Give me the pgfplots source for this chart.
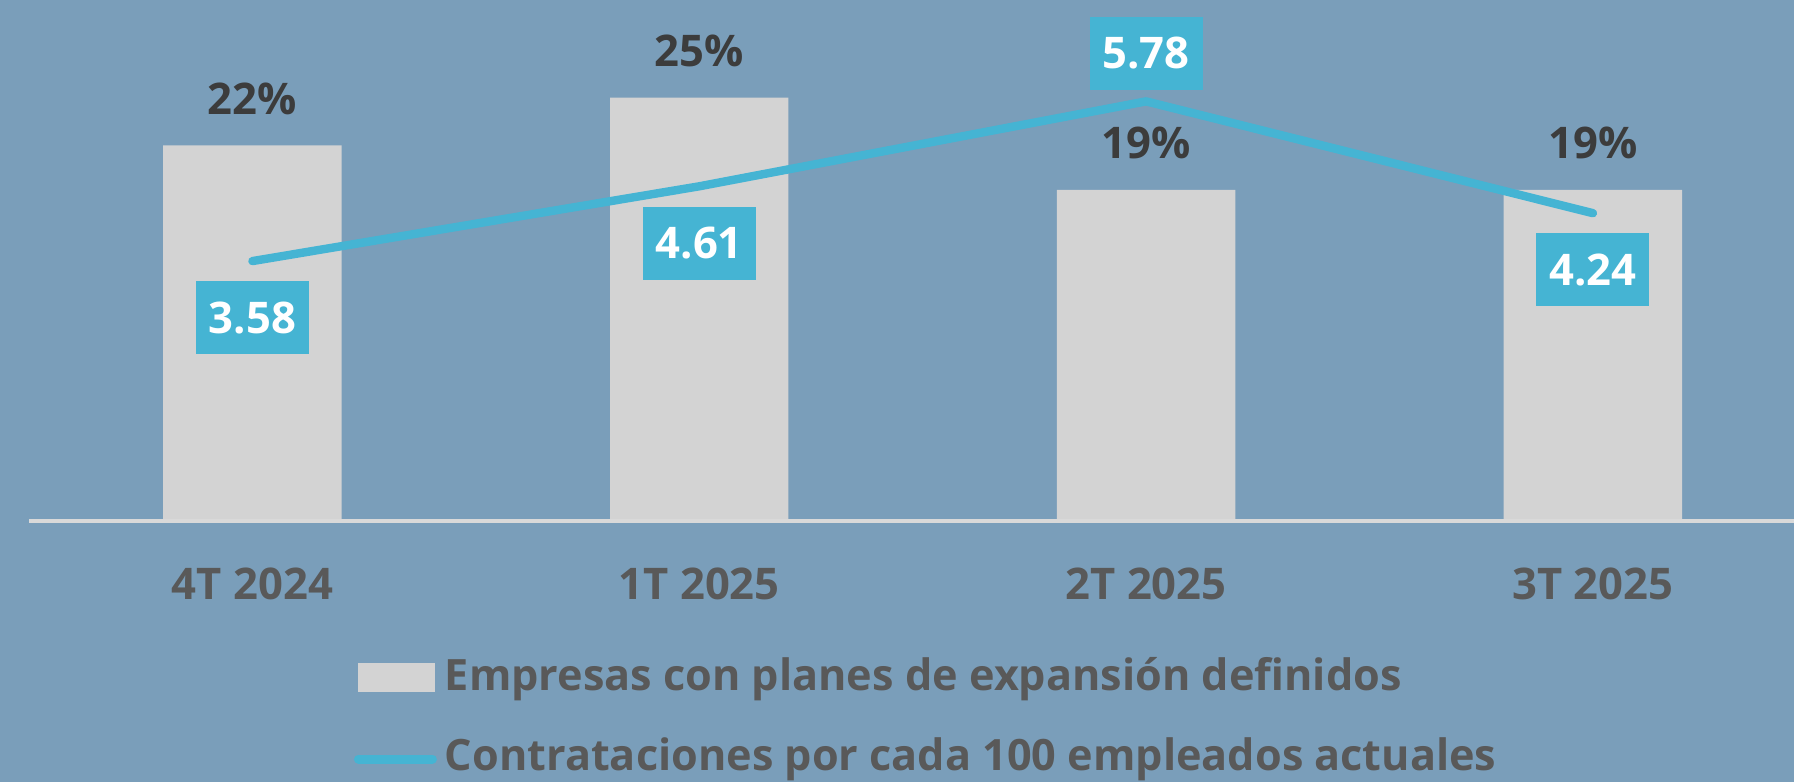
\documentclass[border=0pt]{standalone}
\usepackage{pgfplots}
\pgfplotsset{compat=1.18}
\usepackage{pgfplotstable}
\usepackage{fontspec}
\setmainfont{Open Sans}
\definecolor{bg}{HTML}{7A9EBA}
\definecolor{barcol}{HTML}{D3D3D3}
\definecolor{linecol}{HTML}{45B4D3}
\definecolor{axiscol}{HTML}{D9D9D9}
\definecolor{darktext}{HTML}{3C3C3C}
\definecolor{graytext}{HTML}{595959}

\pgfplotstableread{
x y
0 22.0
1 24.8
2 19.4
3 19.4
}\bardata
\pgfplotstableread{
x y shift
0 3.58 -14.2
1 4.61 -14.2
2 5.78 12
3 4.24 -14.2
}\linedata

\begin{document}
\begin{tikzpicture}[font=\fontsize{10.9}{13}\selectfont\bfseries]
\path[use as bounding box, fill=bg] (-7.25pt,-65.25pt) rectangle (441.25pt,130.25pt);
\begin{axis}[
  at={(0pt,0pt)}, anchor=south west,
  scale only axis, width=441.25pt, height=130.25pt,
  xmin=-0.5, xmax=3.45, ymin=0, ymax=30.52,
  clip=false, axis on top,
  axis x line*=bottom, axis y line=none,
  x axis line style={draw=axiscol, line width=1pt, -},
  xtick={0,1,2,3}, xticklabels={4T 2024, 1T 2025, 2T 2025, 3T 2025},
  major tick length=0pt, xtick style={draw=none}, ytick=\empty,
  xticklabel style={anchor=base, yshift=-19.5pt, inner sep=0pt, text=graytext, font=\fontsize{10.9}{13}\selectfont\bfseries},
  ybar, bar width=44.6pt,
  nodes near coords={\pgfmathprintnumber[assume math mode=true, fixed, precision=0]{\pgfplotspointmeta}\%},
  nodes near coords style={anchor=south, yshift=7.5pt, inner sep=0pt, text=darktext, font=\fontsize{10.9}{13}\selectfont\bfseries},
]
\addplot[fill=barcol, draw=none] table[x=x, y=y] {\bardata};
\end{axis}
\begin{axis}[
  at={(0pt,0pt)}, anchor=south west,
  scale only axis, width=441.25pt, height=130.25pt,
  xmin=-0.5, xmax=3.45, ymin=0, ymax=7.176,
  clip=false, axis lines=none,
  legend cell align=left,
  legend style={at={(axis description cs:0.1841,-0.263)}, anchor=north west,
    draw=none, fill=none, inner sep=0pt, outer sep=0pt,
    row sep=9.5pt, column sep=2pt, text=graytext,
    font=\fontsize{10.8}{13}\selectfont\bfseries,
    nodes={anchor=west, inner sep=0pt, text height=8pt, text depth=2.5pt}},
]
\addlegendimage{legend image code/.code={\fill[barcol] (1.25pt,-3pt) rectangle (20pt,3.75pt);}}
\addlegendentry{Empresas con planes de expansión definidos}
\addplot[linecol, line width=2.1pt, line cap=round, line join=round, mark=none,
  legend image code/.code={\draw[linecol, line width=2.25pt, line cap=round] (1.125pt,0pt) -- (19.625pt,0pt);},
  visualization depends on={\thisrow{shift} \as \myshift},
  nodes near coords={\pgfmathprintnumber[assume math mode=true, fixed, fixed zerofill, precision=2]{\pgfplotspointmeta}},
  nodes near coords style={anchor=center, yshift=\myshift pt, inner sep=0pt, fill=linecol, text=white,
    minimum width=28.25pt, minimum height=18.25pt, font=\fontsize{10.9}{13}\selectfont\bfseries},
] table[x=x, y=y] {\linedata};
\addlegendentry{Contrataciones por cada 100 empleados actuales}
\end{axis}
\end{tikzpicture}
\end{document}
